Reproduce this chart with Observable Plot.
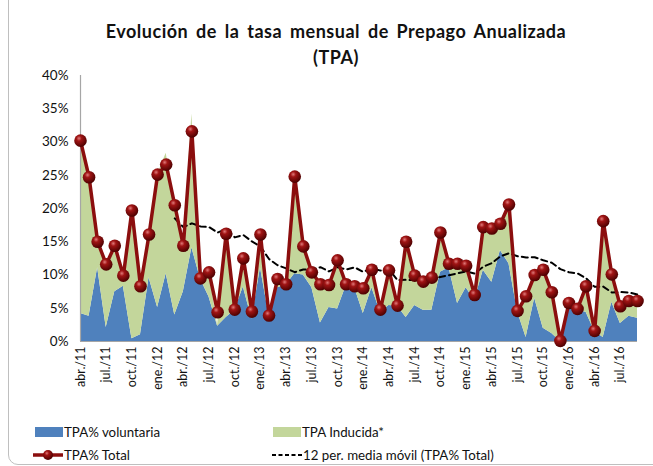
<!DOCTYPE html>
<html><head><meta charset="utf-8">
<script src="https://cdn.jsdelivr.net/npm/d3@7"></script>
<script src="https://cdn.jsdelivr.net/npm/@observablehq/plot@0.6"></script>
<style>
body{margin:0;background:#fff;font-family:Lato,"Open Sans",sans-serif;}
#wrap{position:relative;width:653px;height:466px;overflow:hidden;background:#fff;}
#frame{position:absolute;left:8px;top:-12px;width:720px;height:477px;border:1px solid #bfbfbf;border-radius:10px;box-sizing:border-box;}
#title{position:absolute;left:0;width:672px;top:18px;text-align:center;font-weight:bold;font-size:18px;letter-spacing:0.5px;word-spacing:3px;line-height:26px;color:#111;}
#chart{position:absolute;left:0;top:0;}
.lt{position:absolute;font-size:13.3px;color:#111;line-height:16px;white-space:nowrap;}
#legsvg{position:absolute;left:0;top:0;}
</style></head>
<body>
<div id="wrap">
  <div id="frame"></div>
  <div id="chart"></div>
  <div id="title">Evolución de la tasa mensual de Prepago Anualizada<br>(TPA)</div>
  <svg id="legsvg" width="653" height="466"></svg>
  <div class="lt" style="left:64px;top:424px">TPA% voluntaria</div>
  <div class="lt" style="left:302px;top:424px">TPA Inducida*</div>
  <div class="lt" style="left:64px;top:447px">TPA% Total</div>
  <div class="lt" style="left:303px;top:447px">12 per. media móvil (TPA% Total)</div>
</div>
<script>
const months = [
 "abr./11","may./11","jun./11","jul./11","ago./11","sep./11","oct./11","nov./11","dic./11",
 "ene./12","feb./12","mar./12","abr./12","may./12","jun./12","jul./12","ago./12","sep./12","oct./12","nov./12","dic./12",
 "ene./13","feb./13","mar./13","abr./13","may./13","jun./13","jul./13","ago./13","sep./13","oct./13","nov./13","dic./13",
 "ene./14","feb./14","mar./14","abr./14","may./14","jun./14","jul./14","ago./14","sep./14","oct./14","nov./14","dic./14",
 "ene./15","feb./15","mar./15","abr./15","may./15","jun./15","jul./15","ago./15","sep./15","oct./15","nov./15","dic./15",
 "ene./16","feb./16","mar./16","abr./16","may./16","jun./16","jul./16","ago./16","sep./16"
];
const tickLabels = ["abr./11","jul./11","oct./11","ene./12","abr./12","jul./12","oct./12","ene./13","abr./13","jul./13","oct./13",
 "ene./14","abr./14","jul./14","oct./14","ene./15","abr./15","jul./15","oct./15","ene./16","abr./16","jul./16"];
const total = [30.2,24.7,15.0,11.6,14.4,9.9,19.7,8.3,16.1,25.1,26.6,20.5,14.4,31.6,9.5,10.4,4.4,16.2,4.8,12.5,4.5,
 16.1,3.9,9.4,8.6,24.8,14.3,10.4,8.6,8.5,12.2,8.6,8.3,8.0,10.8,4.8,10.7,5.4,15.0,9.9,9.0,9.6,16.4,11.7,11.7,
 11.4,7.0,17.2,17.0,17.7,20.6,4.6,6.8,10.0,10.8,7.4,0.1,5.8,4.9,8.3,1.6,18.1,10.1,5.3,6.1,6.1];
const voluntaria = [4.2,3.8,11.1,2.1,7.5,8.3,0.4,1.0,9.6,5.1,10.2,4.0,7.5,14.1,9.4,6.7,2.3,3.6,4.7,8.2,3.4,
 11.1,3.9,8.1,8.5,10.2,10.0,8.1,2.8,5.1,4.9,8.4,8.1,4.2,8.1,4.4,5.4,5.3,3.6,5.4,4.7,4.7,10.4,11.1,5.7,
 8.1,6.2,10.7,8.9,13.7,11.7,4.5,0.6,6.5,2.0,1.2,0.0,5.7,4.7,4.4,1.5,0.6,5.9,2.7,3.8,3.5];
const inducida = [26.0,20.9,3.9,9.5,6.9,1.6,19.3,7.3,6.5,20.0,18.1,16.5,6.9,20.1,0.1,3.7,0.2,12.6,0.1,4.3,1.1,
 5.0,0.0,1.3,0.1,14.6,4.3,2.3,5.8,3.4,7.3,0.2,0.2,3.8,2.7,0.4,5.3,0.1,11.4,4.5,4.3,4.9,6.0,0.6,6.0,
 3.3,0.8,6.5,8.1,4.0,8.9,0.1,6.2,3.5,8.8,6.2,0.1,0.1,0.2,3.9,0.1,17.5,4.2,2.6,2.3,2.6];
const series = ["TPA% voluntaria","TPA Inducida*"];
const colors = ["#4F81BD","#C3D69B"];
const lineColor = "#8B0E0E";

const data = months.map((m,i)=>({m, total: total[i]}));
const long = [
  ...months.map((m,i)=>({m, serie: series[0], v: voluntaria[i]})),
  ...months.map((m,i)=>({m, serie: series[1], v: inducida[i]}))
];

const chart = Plot.plot({
  width: 653, height: 466,
  marginLeft: 80, marginRight: 16, marginTop: 75, marginBottom: 125,
  style: {fontFamily: "Lato, 'Open Sans', sans-serif", fontSize: "13px", color: "#111", background: "transparent"},
  x: {type: "point", domain: months, padding: 0},
  y: {domain: [0, 40]},
  color: {domain: series, range: colors},
  marks: [
    Plot.areaY(long, {x: "m", y: "v", fill: "serie", z: "serie"}),
    Plot.ruleY([0], {stroke: "#a6a6a6", strokeWidth: 1.2}),
    Plot.ruleX([months[0]], {stroke: "#a6a6a6", strokeWidth: 1.2}),
    Plot.lineY(data, Plot.windowY({k: 12, anchor: "end", strict: true, reduce: "mean"}, {x: "m", y: "total", stroke: "#000", strokeWidth: 2, strokeDasharray: "6,4"})),
    Plot.lineY(data, {x: "m", y: "total", stroke: lineColor, strokeWidth: 3.5}),
    Plot.dot(data, {x: "m", y: "total", r: 6.3, fill: "url(#ball)", stroke: "none"}),
    Plot.axisX({ticks: tickLabels, tickRotate: -90, tickSize: 0, tickPadding: 5, fontSize: 12.5, label: null}),
    Plot.axisY({ticks: [0,5,10,15,20,25,30,35,40], tickFormat: d => d + "%", tickSize: 0, tickPadding: 12, fontSize: 13.5, label: null})
  ]
});
const ns = "http://www.w3.org/2000/svg";
const defs = document.createElementNS(ns, "defs");
defs.innerHTML = '<radialGradient id="ball" cx="38%" cy="32%" r="70%"><stop offset="0" stop-color="#e07a7a"/><stop offset="0.3" stop-color="#a01414"/><stop offset="1" stop-color="#4a0000"/></radialGradient>';
chart.prepend(defs);
document.getElementById("chart").appendChild(chart);

// legend swatches
const leg = d3.select("#legsvg");
leg.append("rect").attr("x", 35).attr("y", 427).attr("width", 28).attr("height", 10).attr("fill", colors[0]);
leg.append("rect").attr("x", 273).attr("y", 427).attr("width", 28).attr("height", 10).attr("fill", colors[1]);
leg.append("line").attr("x1", 33).attr("x2", 63).attr("y1", 455).attr("y2", 455).attr("stroke", lineColor).attr("stroke-width", 3.5);
leg.append("circle").attr("cx", 48).attr("cy", 455).attr("r", 5).attr("fill", "url(#ball)");
leg.append("line").attr("x1", 272).attr("x2", 302).attr("y1", 455).attr("y2", 455).attr("stroke", "#000").attr("stroke-width", 2).attr("stroke-dasharray", "4,2.5");
</script>
</body></html>
